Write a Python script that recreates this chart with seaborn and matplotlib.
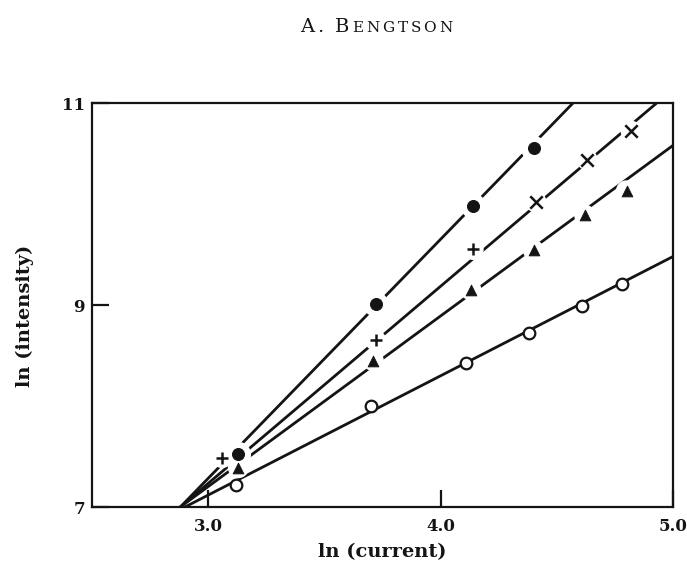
import numpy as np
import pandas as pd
import matplotlib
matplotlib.use("Agg")
import matplotlib.pyplot as plt
import seaborn as sns

# ---- data ----
# measured points, ln(current) vs ln(intensity)
x_fill = [3.13, 3.72, 4.14, 4.40]
y_fill = [7.52, 9.01, 9.98, 10.55]

x_plus = [3.06, 3.72, 4.14, 4.41, 4.63, 4.82]
y_plus = [7.49, 8.65, 9.55, 10.02, 10.44, 10.72]
m_plus = ['+', '+', '+', 'x', 'x', 'x']

x_tri = [3.13, 3.71, 4.13, 4.40, 4.62, 4.80]
y_tri = [7.39, 8.45, 9.15, 9.54, 9.89, 10.13]

x_open = [3.12, 3.70, 4.11, 4.38, 4.61, 4.78]
y_open = [7.22, 8.00, 8.43, 8.72, 8.99, 9.21]

# fitted straight lines (end points)
line_fill_x = [2.88, 4.57]
line_fill_y = [7.00, 11.00]
line_plus_x = [2.88, 4.93]
line_plus_y = [7.00, 11.00]
line_tri_x = [2.88, 5.00]
line_tri_y = [7.00, 10.58]
line_open_x = [2.90, 5.00]
line_open_y = [7.00, 9.48]

x_ticks = [3.0, 4.0, 5.0]
x_ticklabels = ["3.0", "4.0", "5.0"]
y_ticks = [7, 9, 11]
y_ticklabels = ["7", "9", "11"]

# ---- style ----
sns.set_style("white")
plt.rcParams['font.family'] = ['DejaVu Serif', 'Liberation Serif']
INK = "#141414"

fig = plt.figure(figsize=(6.87, 5.83), dpi=100)
ax = fig.add_axes([92/687, 1-507/583, (673-92)/687, (507-103)/583])

# lines
for lx, ly in [(line_fill_x, line_fill_y), (line_plus_x, line_plus_y),
               (line_tri_x, line_tri_y), (line_open_x, line_open_y)]:
    sns.lineplot(x=lx, y=ly, ax=ax, color=INK, lw=2.0, sort=False,
                 estimator=None, zorder=2)

# white halos that break the lines around markers
halo = dict(color="white", edgecolor="none", zorder=3, legend=False)
sns.scatterplot(x=x_fill, y=y_fill, s=330, marker='o', ax=ax, **halo)
sns.scatterplot(x=x_plus, y=y_plus, s=230, marker='o', ax=ax, **halo)
sns.scatterplot(x=x_tri, y=y_tri, s=230, marker='o', ax=ax, **halo)

# markers
sns.scatterplot(x=x_fill, y=y_fill, s=75, marker='o', color=INK,
                edgecolor=INK, ax=ax, zorder=5, legend=False)
dfp = pd.DataFrame({"x": x_plus, "y": y_plus, "m": m_plus})
for mk, sub in dfp.groupby("m"):
    sns.scatterplot(data=sub, x="x", y="y", s=80, marker=mk, color=INK,
                    linewidth=1.8, ax=ax, zorder=5, legend=False)
sns.scatterplot(x=x_tri, y=y_tri, s=60, marker='^', color=INK,
                edgecolor=INK, ax=ax, zorder=5, legend=False)
sns.scatterplot(x=x_open, y=y_open, s=70, marker='o', color="white",
                edgecolor=INK, linewidth=1.6, ax=ax, zorder=5, legend=False)

ax.set_xlim(2.5, 5.0)
ax.set_ylim(7, 11)
ax.set_xticks(x_ticks)
ax.set_xticklabels(x_ticklabels)
ax.set_yticks(y_ticks)
ax.set_yticklabels(y_ticklabels)
ax.tick_params(axis='both', direction='in', length=12, width=1.6, color=INK,
               labelsize=12, labelcolor=INK, bottom=True, left=True,
               top=False, right=False)
ax.tick_params(axis='x', pad=8)
ax.tick_params(axis='y', pad=5)
for lab in ax.get_xticklabels() + ax.get_yticklabels():
    lab.set_fontweight('bold')
for sp in ax.spines.values():
    sp.set_visible(True)
    sp.set_linewidth(1.6)
    sp.set_color(INK)

ax.set_xlabel("ln (current)", fontsize=14, fontweight='bold', color=INK,
              labelpad=6)
ax.set_ylabel("ln (intensity)", fontsize=14, fontweight='bold', color=INK)
ax.yaxis.set_label_coords(-0.10, 0.473)
ax.grid(False)

# small-caps, letter-spaced header "A. BENGTSON"
fig.canvas.draw()
r = fig.canvas.get_renderer()
W = fig.get_figwidth() * fig.dpi
base_y = 1 - 32/583
chars = [("A", 14), (".", 14), (" ", 14), ("B", 14)] + [(c, 11) for c in "ENGTSON"]
spacing = 2.8
texts = []
widths = []
for ch, fs in chars:
    t = fig.text(0, base_y, ch, fontsize=fs, color=INK, va='baseline')
    w = t.get_window_extent(r).width if ch != " " else fs * 0.35 * fig.dpi / 72
    texts.append(t)
    widths.append(w)
total = sum(widths) + spacing * (len(chars) - 1)
xpos = 376 - total / 2
for t, w in zip(texts, widths):
    t.set_x(xpos / W)
    xpos += w + spacing

fig.savefig("out.png", dpi=100)
